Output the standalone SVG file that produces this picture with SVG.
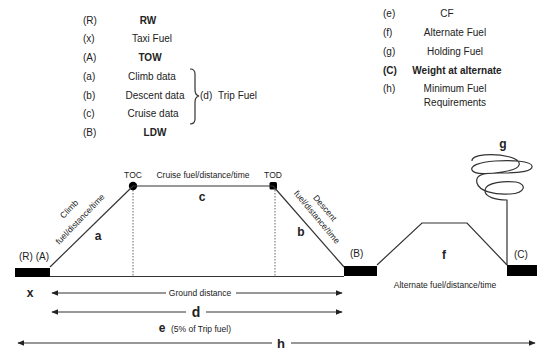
<svg xmlns="http://www.w3.org/2000/svg" width="537" height="351" viewBox="0 0 537 351">
<defs>
<marker id="ah" viewBox="0 0 10 10" refX="9" refY="5" markerWidth="7" markerHeight="7" orient="auto-start-reverse" markerUnits="userSpaceOnUse">
<path d="M0,1 L10,5 L0,9 Z" fill="#222"/>
</marker>
</defs>
<style>
text{font-family:"Liberation Sans",Arial,sans-serif;fill:#222}
.lg{font-size:10px}
.b{font-weight:bold}
.c{text-anchor:middle}
.sm{font-size:8.5px}
.let{font-size:12px;font-weight:bold;text-anchor:middle}
.ln{stroke:#333;stroke-width:1.2;fill:none}
.dot{stroke:#666;stroke-width:1;stroke-dasharray:1.5 1.5;fill:none}
.bar{fill:#000}
.ar{stroke:#333;stroke-width:1.1;fill:none}
</style>
<rect width="537" height="351" fill="#fff"/>

<g id="legend-left">
<text class="lg" x="83" y="23.5">(R)</text><text class="lg b c" x="148" y="23.5">RW</text>
<text class="lg" x="83" y="41.5">(x)</text><text class="lg c" x="152" y="41.5">Taxi Fuel</text>
<text class="lg" x="83" y="60.5">(A)</text><text class="lg b c" x="150" y="60.5">TOW</text>
<text class="lg" x="83" y="79.5">(a)</text><text class="lg c" x="152" y="79.5">Climb data</text>
<text class="lg" x="83" y="98.5">(b)</text><text class="lg c" x="155" y="98.5">Descent data</text>
<text class="lg" x="83" y="116.5">(c)</text><text class="lg c" x="153" y="116.5">Cruise data</text>
<text class="lg" x="83" y="135.5">(B)</text><text class="lg b c" x="155" y="135.5">LDW</text>
<path class="ln" d="M190,69 Q195,69 195,74 V90 Q195,95 199,96 Q195,97 195,102 V119 Q195,124 190,124" stroke-width="1"/>
<text class="lg" x="200" y="99">(d)</text>
<text class="lg" x="218" y="99">Trip Fuel</text>
</g>

<g id="legend-right">
<text class="lg" x="383" y="16.5">(e)</text><text class="lg c" x="447" y="16.5">CF</text>
<text class="lg" x="383" y="35.5">(f)</text><text class="lg c" x="455" y="35.5">Alternate Fuel</text>
<text class="lg" x="383" y="54.5">(g)</text><text class="lg c" x="455" y="54.5">Holding Fuel</text>
<text class="lg b" x="383" y="73.5">(C)</text><text class="lg b c" x="457" y="73.5">Weight at alternate</text>
<text class="lg" x="383" y="91.5">(h)</text><text class="lg c" x="455" y="91.5">Minimum Fuel</text>
<text class="lg c" x="455" y="106">Requirements</text>
</g>

<g id="runway-R">
<rect class="bar" x="15" y="268" width="35" height="9"/>
<text class="lg" x="19" y="260">(R) (A)</text>
</g>

<g id="TOC">
<circle cx="133" cy="186" r="4.2" fill="#000"/>
<text class="sm c" x="133" y="178">TOC</text>
</g>

<g id="TOD">
<rect x="269.5" y="182" width="7.5" height="7.5" rx="1.5" fill="#000"/>
<text class="sm c" x="273" y="178">TOD</text>
</g>

<g id="runway-B">
<rect class="bar" x="344" y="266" width="33" height="10"/>
<text class="lg" x="350" y="257">(B)</text>
</g>

<g id="runway-C">
<rect class="bar" x="507" y="265" width="30" height="11"/>
<text class="lg" x="514" y="258">(C)</text>
</g>

<g id="holding">
<path class="ln" d="M507,265 V200 C496,200 484,197 485,190 C486,182 505,181 516,182 C527,184 526,193 510,194 C494,195 479,191 477,183 C475,175 482,173 500,173 C522,173 533,171 532,166 C531,161 512,160 495,161 C479,162 470,166 472,170 C474,175 490,174 502,172 C524,169 523,161 510,157 C494,153 471,154 472,161"/>
<text class="let" x="503" y="148">g</text>
</g>

<g id="connectors">
<path class="ln" d="M50,267 L133,186"/>
<path class="ln" d="M133,186 L273,186"/>
<path class="ln" d="M273,186 L344,267"/>
<path class="ln" d="M50,276.5 L344,276.5" stroke-width="0.9"/>
<path class="dot" d="M133,190 V276"/>
<path class="dot" d="M275,190 V276"/>
<path class="ln" d="M377,265 L422,223 L467,223 L507,265"/>
<path class="ar" d="M52,293 H166" marker-start="url(#ah)"/>
<path class="ar" d="M236,293 H342" marker-end="url(#ah)"/>
<path class="ar" d="M52,312 H186" marker-start="url(#ah)"/>
<path class="ar" d="M206,312 H342" marker-end="url(#ah)"/>
<path class="ar" d="M18,343 H272" marker-start="url(#ah)"/>
<path class="ar" d="M291,343 H535" marker-end="url(#ah)"/>
</g>

<g id="labels">
<text class="sm c" x="203" y="178">Cruise fuel/distance/time</text>
<text class="let" x="202" y="201">c</text>
<text class="let" x="98" y="240">a</text>
<text class="let" x="301" y="236">b</text>
<text class="let" x="444" y="259">f</text>
<g transform="translate(69,209) rotate(-46)"><text class="sm c" x="0" y="3">Climb</text></g>
<g transform="translate(80,219) rotate(-46)"><text class="sm c" x="0" y="3">fuel/distance/time</text></g>
<g transform="translate(325,208) rotate(50)"><text class="sm c" x="0" y="3">Descent</text></g>
<g transform="translate(317,217) rotate(50)"><text class="sm c" x="0" y="3">fuel/distance/time</text></g>
<text class="sm c" x="445" y="288">Alternate fuel/distance/time</text>
<text class="let" x="30" y="297">x</text>
<text class="sm c" x="200" y="296">Ground distance</text>
<text class="c b" x="196" y="317" font-size="14">d</text>
<text class="let" x="162" y="332">e</text>
<text class="sm" x="171" y="332">(5% of Trip fuel)</text>
<text class="c b" x="281" y="347.5" font-size="13">h</text>
</g>
</svg>
